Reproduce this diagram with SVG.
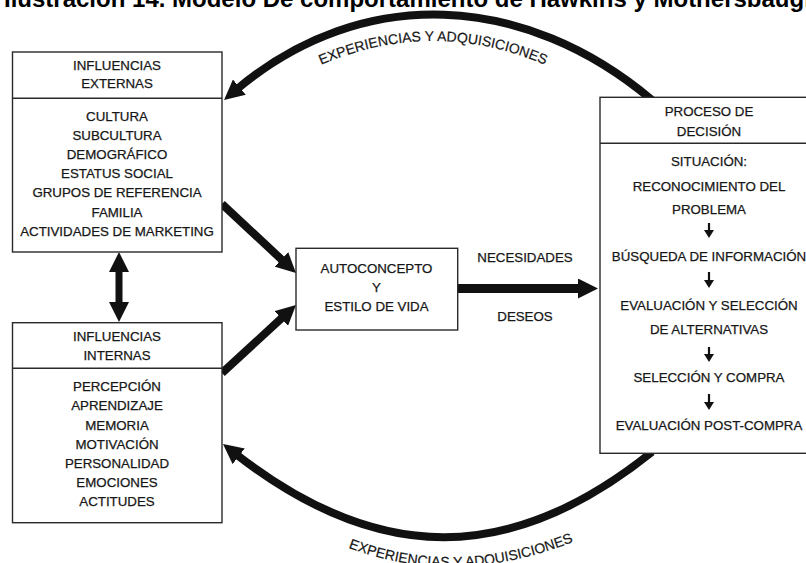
<svg xmlns="http://www.w3.org/2000/svg" width="806" height="563" viewBox="0 0 806 563">
<style>
  .box { fill: #ffffff; stroke: #2a2a2a; stroke-width: 1.4; }
  .div { stroke: #2a2a2a; stroke-width: 1.4; }
  .t { font-family: "Liberation Sans", Arial, sans-serif; font-size: 13.3px; fill: #161616; stroke: #161616; stroke-width: 0.25; text-anchor: middle; }
  .lab { font-family: "Liberation Sans", Arial, sans-serif; font-size: 13.3px; fill: #161616; stroke: #161616; stroke-width: 0.25; text-anchor: middle; }
  .arc { font-family: "Liberation Sans", Arial, sans-serif; font-size: 14px; fill: #161616; stroke: #161616; stroke-width: 0.2; }
  .title { font-family: "Liberation Sans", Arial, sans-serif; font-size: 24px; font-weight: bold; fill: #000; }
  .big { fill: none; stroke: #111; stroke-width: 8; marker-end: url(#ah); }
  .small { fill: none; stroke: #111; stroke-width: 2.2; marker-end: url(#sh); }
</style>
<defs>
  <marker id="ah" markerUnits="userSpaceOnUse" viewBox="0 0 20 20" markerWidth="20" markerHeight="20" refX="4" refY="10" orient="auto-start-reverse">
    <path d="M0,0 L20,10 L0,20 z" fill="#111"/>
  </marker>
  <marker id="sh" markerUnits="userSpaceOnUse" viewBox="0 0 8 10" markerWidth="8" markerHeight="10" refX="1" refY="5" orient="auto">
    <path d="M0,0 L8,5 L0,10 z" fill="#111"/>
  </marker>
  <path id="topTextPath" d="M 318 66 Q 433 16 548 66"/>
  <path id="botTextPath" d="M 352 549 Q 456 587 570 543"/>
</defs>
<rect x="0" y="0" width="806" height="563" fill="#ffffff"/>
<text class="title" x="4" y="7">Ilustración 14. Modelo De comportamiento de Hawkins y Mothersbaugh</text>

<g id="connectors">
  <path class="big" d="M 652 100 C 525 -7, 363.3 -17, 236.3 89.7"/>
  <path class="big" d="M 652 452 C 510 566, 377.6 564.6, 235.6 453.8"/>
  <path class="big" d="M 222 204 L 284.3 262.1"/>
  <path class="big" d="M 222 373 L 284.2 315.8"/>
  <path class="big" d="M 457.7 288.5 L 582 288.5" style="stroke-width:9"/>
  <path class="big" d="M 119 268 L 119 306" style="stroke-width:7; marker-start:url(#ah)"/>
  <text class="arc"><textPath href="#topTextPath" startOffset="50%" text-anchor="middle">EXPERIENCIAS Y ADQUISICIONES</textPath></text>
  <text class="arc"><textPath href="#botTextPath" startOffset="50%" text-anchor="middle">EXPERIENCIAS Y ADQUISICIONES</textPath></text>
  <text class="lab" x="525" y="262">NECESIDADES</text>
  <text class="lab" x="525" y="321.4">DESEOS</text>
</g>

<g id="influencias-externas">
  <rect class="box" x="12.5" y="52" width="209.5" height="200"/>
  <line class="div" x1="12.5" y1="98.3" x2="222" y2="98.3"/>
  <text class="t" x="117" y="69.5">INFLUENCIAS</text>
  <text class="t" x="117" y="88">EXTERNAS</text>
  <text class="t" x="117" y="120.5">CULTURA</text>
  <text class="t" x="117" y="139.7">SUBCULTURA</text>
  <text class="t" x="117" y="158.9">DEMOGRÁFICO</text>
  <text class="t" x="117" y="178">ESTATUS SOCIAL</text>
  <text class="t" x="117" y="197.3">GRUPOS DE REFERENCIA</text>
  <text class="t" x="117" y="216.5">FAMILIA</text>
  <text class="t" x="117" y="235.7">ACTIVIDADES DE MARKETING</text>
</g>

<g id="influencias-internas">
  <rect class="box" x="12.5" y="322.7" width="209.5" height="200"/>
  <line class="div" x1="12.5" y1="368.3" x2="222" y2="368.3"/>
  <text class="t" x="117" y="340.7">INFLUENCIAS</text>
  <text class="t" x="117" y="359.7">INTERNAS</text>
  <text class="t" x="117" y="391.4">PERCEPCIÓN</text>
  <text class="t" x="117" y="410.4">APRENDIZAJE</text>
  <text class="t" x="117" y="429.7">MEMORIA</text>
  <text class="t" x="117" y="448.7">MOTIVACIÓN</text>
  <text class="t" x="117" y="468">PERSONALIDAD</text>
  <text class="t" x="117" y="487.4">EMOCIONES</text>
  <text class="t" x="117" y="506.4">ACTITUDES</text>
</g>

<g id="autoconcepto">
  <rect class="box" x="296" y="248.3" width="161.7" height="81.7"/>
  <text class="t" x="376.5" y="273">AUTOCONCEPTO</text>
  <text class="t" x="376.5" y="292.4">Y</text>
  <text class="t" x="376.5" y="311.4">ESTILO DE VIDA</text>
</g>

<g id="proceso-decision">
  <rect class="box" x="600" y="97.3" width="230" height="356"/>
  <line class="div" x1="600" y1="143.3" x2="830" y2="143.3"/>
  <text class="t" x="709" y="116.4">PROCESO DE</text>
  <text class="t" x="709" y="136.4">DECISIÓN</text>
  <text class="t" x="709" y="165.7">SITUACIÓN:</text>
  <text class="t" x="709" y="191.4">RECONOCIMIENTO DEL</text>
  <text class="t" x="709" y="213.7">PROBLEMA</text>
  <path class="small" d="M 709 223 L 709 231"/>
  <text class="t" x="709" y="260.7">BÚSQUEDA DE INFORMACIÓN</text>
  <path class="small" d="M 709 272 L 709 281"/>
  <text class="t" x="709" y="309.7">EVALUACIÓN Y SELECCIÓN</text>
  <text class="t" x="709" y="333.7">DE ALTERNATIVAS</text>
  <path class="small" d="M 709 347 L 709 355"/>
  <text class="t" x="709" y="382">SELECCIÓN Y COMPRA</text>
  <path class="small" d="M 709 394 L 709 403"/>
  <text class="t" x="709" y="429.7">EVALUACIÓN POST-COMPRA</text>
</g>
</svg>
